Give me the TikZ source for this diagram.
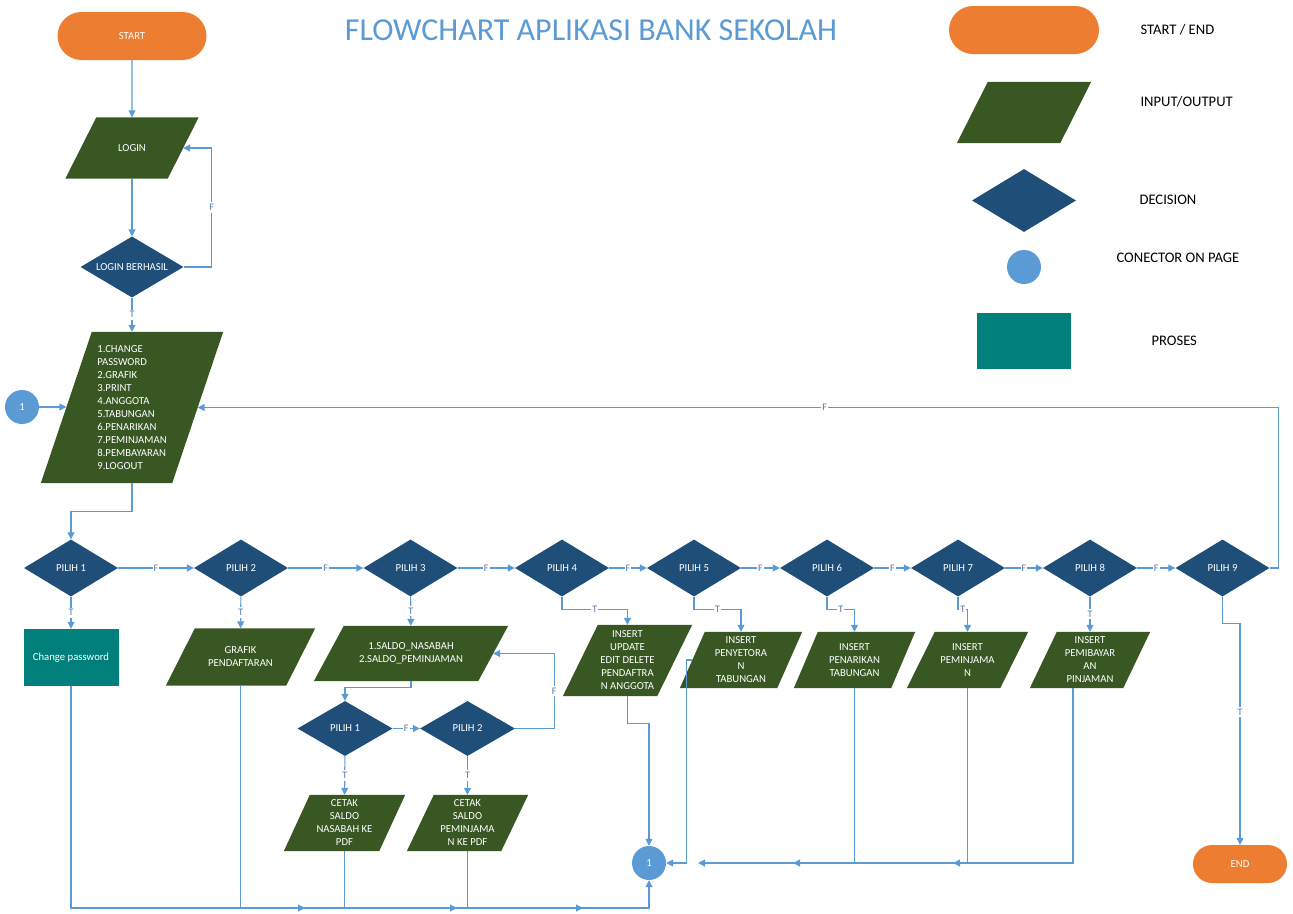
\documentclass[tikz,border=0pt]{standalone}
\usepackage{fontspec}
\setmainfont{Carlito}
\usetikzlibrary{shapes.geometric,shapes.misc,arrows.meta,positioning,calc}

\definecolor{termc}{HTML}{ED7D31}
\definecolor{ioc}{HTML}{385723}
\definecolor{decc}{HTML}{1F4E79}
\definecolor{conc}{HTML}{5B9BD5}
\definecolor{procc}{HTML}{007F7B}
\definecolor{linec}{HTML}{5B9BD5}
\definecolor{lblc}{HTML}{5878A4}

\pgfdeclarelayer{bg}
\pgfsetlayers{bg,main}

\begin{document}
\begin{tikzpicture}[
    x=1pt, y=-1pt,
    font=\fontsize{10.7}{13}\selectfont,
    terminal/.style={rounded rectangle, fill=termc, text=white, inner sep=0pt},
    io/.style={rectangle, text=white, align=center, inner sep=1pt},
    decision/.style={diamond, aspect=1.65, fill=decc, text=white, inner sep=0pt, minimum width=94pt, minimum height=57pt},
    connector/.style={circle, fill=conc, text=white, minimum size=34pt, inner sep=0pt},
    process/.style={rectangle, fill=procc, text=white, inner sep=1pt},
    arrow/.style={-{Triangle[length=7pt,width=7pt]}, line width=1.1pt, draw=linec},
    lbl/.style={fill=white, text=lblc, font=\fontsize{10}{11}\selectfont, inner xsep=1pt, inner ysep=2pt},
    legend/.style={anchor=west, font=\fontsize{14.6}{16}\selectfont}
]
    \useasboundingbox (0,0) rectangle (1293,913);

    % Title
    \node[text=conc, font=\fontsize{32}{35}\selectfont] (title) at (591,30) {FLOWCHART APLIKASI BANK SEKOLAH};

    % Legend
    \node[terminal, minimum width=150pt, minimum height=48pt] (lgterm) at (1024,30) {};
    \node[io, minimum width=103pt, minimum height=61pt] (lgio) at (1024,112.5) {};
    \node[decision, minimum width=104pt, minimum height=63pt] (lgdec) at (1024,200.5) {};
    \node[connector] (lgcon) at (1024,267) {};
    \node[process, minimum width=94pt, minimum height=56pt] (lgproc) at (1024,341) {};
    \node[legend] (lgt1) at (1137,30) {START / END};
    \node[legend] (lgt2) at (1137,102) {INPUT/OUTPUT};
    \node[legend] (lgt3) at (1136,200) {DECISION};
    \node[legend] (lgt4) at (1113,258) {CONECTOR ON PAGE};
    \node[legend] (lgt5) at (1148,341) {PROSES};

    % Main column
    \node[terminal, minimum width=149pt, minimum height=48pt] (start) at (132,36) {START};
    \node[io, minimum width=102pt, minimum height=61pt] (login) at (132,148) {LOGIN};
    \node[decision, minimum width=103pt, minimum height=61pt] (cek) at (132,267) {LOGIN BERHASIL};
    \node[io, minimum width=131pt, minimum height=151pt, align=left] (menu) at (132,407.5) {
        1.CHANGE\\PASSWORD\\2.GRAFIK\\3.PRINT\\4.ANGGOTA\\5.TABUNGAN\\6.PENARIKAN\\7.PEMINJAMAN\\8.PEMBAYARAN\\9.LOGOUT};
    \node[connector] (con1) at (22,407) {1};

    % Decisions
    \node[decision] (p1) at (71,568) {PILIH 1};
    \node[decision] (p2) at (241,568) {PILIH 2};
    \node[decision] (p3) at (410.5,568) {PILIH 3};
    \node[decision] (p4) at (562,568) {PILIH 4};
    \node[decision] (p5) at (694,568) {PILIH 5};
    \node[decision] (p6) at (827,568) {PILIH 6};
    \node[decision] (p7) at (958,568) {PILIH 7};
    \node[decision] (p8) at (1090,568) {PILIH 8};
    \node[decision] (p9) at (1222.5,568) {PILIH 9};

    % Actions
    \node[process, minimum width=95pt, minimum height=57pt] (chpw) at (71,657.5) {Change password};
    \node[io, minimum width=120pt, minimum height=57pt] (grafik) at (240.5,657) {GRAFIK\\PENDAFTARAN};
    \node[io, minimum width=164pt, minimum height=55pt] (saldo) at (411,653.5) {1.SALDO\_NASABAH\\2.SALDO\_PEMINJAMAN};
    \node[io, minimum width=94pt, minimum height=71pt] (anggota) at (627.5,660.5) {INSERT\\UPDATE\\EDIT DELETE\\PENDAFTRA\\N ANGGOTA};
    \node[io, minimum width=97pt, minimum height=56pt] (setor) at (741,660) {INSERT\\PENYETORA\\N\\TABUNGAN};
    \node[io, minimum width=97pt, minimum height=56pt] (tarik) at (854.5,660) {INSERT\\PENARIKAN\\TABUNGAN};
    \node[io, minimum width=93pt, minimum height=56pt] (pinjam) at (967.5,660) {INSERT\\PEMINJAMA\\N};
    \node[io, minimum width=93pt, minimum height=56pt] (bayar) at (1090,660) {INSERT\\PEMIBAYAR\\AN\\PINJAMAN};

    % Print sub-menu
    \node[decision, minimum width=95pt, minimum height=55pt] (sp1) at (345,728.5) {PILIH 1};
    \node[decision, minimum width=95pt, minimum height=55pt] (sp2) at (467.5,728.5) {PILIH 2};
    \node[io, minimum width=95pt, minimum height=56pt] (cetak1) at (344.5,823) {CETAK\\SALDO\\NASABAH KE\\PDF};
    \node[io, minimum width=94pt, minimum height=56pt] (cetak2) at (467.5,823) {CETAK\\SALDO\\PEMINJAMA\\N KE PDF};

    \node[connector] (con2) at (649,863) {1};
    \node[terminal, minimum width=94pt, minimum height=38pt] (end) at (1240,864) {END};

    % Parallelogram bodies (name/slant)
    \begin{pgfonlayer}{bg}
        \foreach \n/\s in {lgio/31, login/31, menu/51, grafik/29, saldo/30, anggota/35, setor/25,
                           tarik/24, pinjam/28, bayar/27, cetak1/26, cetak2/27}
            \fill[ioc] ($(\n.south west)+(-\s/2,0)$) -- ($(\n.north west)+(\s/2,0)$)
                -- ($(\n.north east)+(\s/2,0)$) -- ($(\n.south east)+(-\s/2,0)$) -- cycle;
    \end{pgfonlayer}

    % Join points
    \coordinate (j1) at (305,908);
    \coordinate (j2) at (457,908);
    \coordinate (j3) at (583,908);
    \coordinate (k1) at (698,863);
    \coordinate (k2) at (793,863);
    \coordinate (k3) at (953,863);

    % Links
    \draw[arrow] (start) -- (login);
    \draw[arrow] (login) -- (cek);
    \draw[arrow] (cek.east) -- ++(28,0) |- node[lbl, pos=0.25] {F} (login.east);
    \draw[arrow] (cek) -- node[lbl] {T} (menu);
    \draw[arrow] (con1.east) -- (con1.east -| menu.west);
    \draw[arrow] (menu.south) -- ++(0,28) -| (p1.north);

    \foreach \a/\b in {p1/p2, p2/p3, p3/p4, p4/p5, p5/p6, p6/p7, p7/p8, p8/p9}
        \draw[arrow] (\a.east) -- node[lbl] {F} (\b.west);
    \draw[arrow] (p9.east) -- ++(9,0) |- node[lbl, pos=0.71] {F} (menu.east);

    \draw[arrow] (p1) -- node[lbl] {T} (chpw);
    \draw[arrow] (p2) -- node[lbl] {T} (grafik);
    \draw[arrow] (p3) -- node[lbl] {T} (saldo);
    \foreach \a/\b in {p4/anggota, p5/setor, p6/tarik, p7/pinjam}
        \draw[arrow] (\a.south) -- ++(0,13) -| node[lbl, pos=0.25] {T} (\b.north);
    \draw[arrow] (p8) -- node[lbl] {T} (bayar);
    \draw[arrow] (p9.south) -- ++(0,27) -| node[lbl, pos=0.7] {T} (end.north);

    \draw[arrow] (saldo.south) -- ++(0,6) -| (sp1.north);
    \draw[arrow] (sp1) -- node[lbl] {F} (sp2);
    \draw[arrow] (sp2.east) -- ++(39,0) |- node[lbl, pos=0.25] {F} (saldo.east);
    \draw[arrow] (sp1) -- node[lbl] {T} (cetak1);
    \draw[arrow] (sp2) -- node[lbl] {T} (cetak2);

    % Back to connector
    \draw[arrow] (chpw.south) |- (j1);
    \draw[arrow] (grafik.south) |- (j2);
    \draw[arrow] (cetak1.south) |- (j3);
    \draw[arrow] (cetak2.south) -- (cetak2.south |- j1) -| (con2.south);
    \draw[arrow] (anggota.south) -- ++(0,27) -| (con2.north);
    \draw[arrow] (setor.west) -- ++(-6,0) |- (con2.east);
    \draw[arrow] (tarik.south) |- (k1);
    \draw[arrow] (pinjam.south) |- (k2);
    \draw[arrow] ([xshift=-17pt]bayar.south) |- (k3);
\end{tikzpicture}
\end{document}
